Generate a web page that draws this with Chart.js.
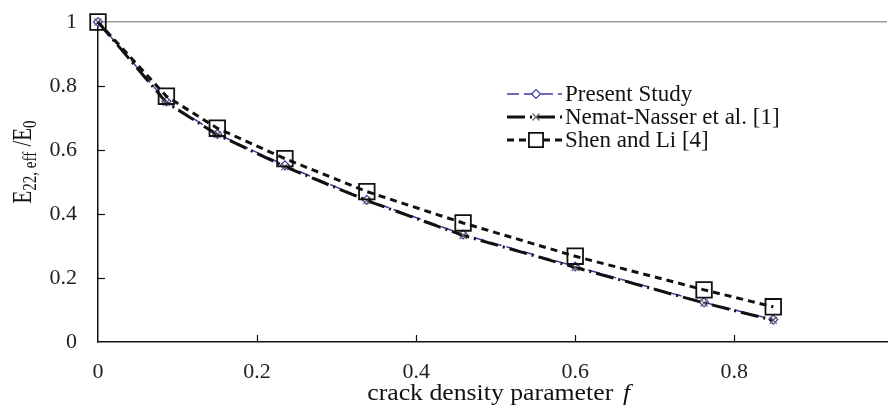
<!DOCTYPE html>
<html>
<head>
<meta charset="utf-8">
<script src="https://cdn.jsdelivr.net/npm/chart.js@4.4.1/dist/chart.umd.min.js"></script>
<style>
  html, body { margin: 0; padding: 0; background: #fff; }
  #wrap { width: 888px; height: 410px; }
</style>
</head>
<body>
<div id="wrap"><canvas id="crack" width="888" height="410"></canvas></div>
<script>
// crack density parameter f
const fValues = [0, 0.086, 0.15, 0.235, 0.338, 0.459, 0.6, 0.762, 0.849];
// E22,eff / E0
const presentStudy = [1, 0.752, 0.65, 0.552, 0.444, 0.336, 0.236, 0.124, 0.07];
const nematNasser = [1, 0.748, 0.648, 0.548, 0.442, 0.333, 0.233, 0.122, 0.068];
const shenLi = [1, 0.768, 0.668, 0.573, 0.47, 0.372, 0.268, 0.163, 0.11];
const xTicks = [0, 0.2, 0.4, 0.6, 0.8];
const yTicks = [0, 0.2, 0.4, 0.6, 0.8, 1];
const seriesNames = ['Present Study', 'Nemat-Nasser et al. [1]', 'Shen and Li [4]'];

const serif = '"Liberation Serif", "DejaVu Serif", serif';
const toPoints = ys => ys.map((y, i) => ({ x: fValues[i], y: y }));

const blue = '#3c3ca4';

// dataset styles
const presentStyle = {
  borderColor: blue, borderWidth: 1.5, borderDash: [12, 5],
  pointStyle: 'rectRot', pointRadius: 4.5, pointBorderColor: blue,
  pointBackgroundColor: '#fff', pointBorderWidth: 1.2
};
const nematStyle = {
  borderColor: '#111', borderWidth: 3, borderDash: [18, 5, 2, 5],
  pointStyle: 'crossRot', pointRadius: 5, pointBorderColor: '#666',
  pointBorderWidth: 1.2
};
const shenStyle = {
  borderColor: '#111', borderWidth: 3, borderDash: [7, 5],
  pointStyle: 'rect', pointRadius: 11, pointBorderColor: '#111',
  pointBackgroundColor: 'rgba(255,255,255,0)', pointBorderWidth: 1.8
};

// inside tick marks, axis titles and legend
const decorations = {
  id: 'decorations',
  afterDraw(chart) {
    const { ctx, chartArea } = chart;
    const xs = chart.scales.x, ys = chart.scales.y;
    ctx.save();
    ctx.strokeStyle = '#111';
    ctx.lineWidth = 1.2;
    xTicks.forEach(v => {
      if (v === 0) return;
      const px = Math.round(xs.getPixelForValue(v)) + 0.5;
      ctx.beginPath();
      ctx.moveTo(px, chartArea.bottom);
      ctx.lineTo(px, chartArea.bottom - 7);
      ctx.stroke();
    });
    yTicks.forEach(v => {
      if (v === 0 || v === 1) return;
      const py = Math.round(ys.getPixelForValue(v)) + 0.5;
      ctx.beginPath();
      ctx.moveTo(chartArea.left, py);
      ctx.lineTo(chartArea.left + 7, py);
      ctx.stroke();
    });

    // x title
    ctx.fillStyle = '#111';
    ctx.textBaseline = 'alphabetic';
    ctx.textAlign = 'left';
    const main = 'crack density parameter ';
    ctx.font = '23px ' + serif;
    const w1 = ctx.measureText(main).width;
    ctx.font = 'italic 23px ' + serif;
    const w2 = ctx.measureText('f').width;
    ctx.save();
    ctx.translate(497, 400);
    ctx.scale(1.12, 1);
    const sx = -(w1 + w2) / 2;
    ctx.font = '23px ' + serif;
    ctx.fillText(main, sx, 0);
    ctx.font = 'italic 23px ' + serif;
    ctx.fillText('f', sx + w1 + 3, 0);
    ctx.restore();

    // y title (rotated, with subscripts)
    const parts = [
      { t: 'E', size: 21, dy: 0 },
      { t: '22, eff', size: 15, dy: 4 },
      { t: ' /E', size: 21, dy: 0 },
      { t: '0', size: 15, dy: 4 }
    ];
    let total = 0;
    parts.forEach(p => { ctx.font = p.size + 'px ' + serif; p.w = ctx.measureText(p.t).width; total += p.w; });
    ctx.save();
    ctx.translate(31, 162);
    ctx.rotate(-Math.PI / 2);
    ctx.scale(1, 1.25);
    let cx = -total / 2;
    parts.forEach(p => {
      ctx.font = p.size + 'px ' + serif;
      ctx.fillText(p.t, cx, p.dy);
      cx += p.w;
    });
    ctx.restore();

    // legend
    const styles = [presentStyle, nematStyle, shenStyle];
    const rowsY = [94, 117, 140];
    styles.forEach((s, i) => {
      const y = rowsY[i];
      ctx.save();
      ctx.strokeStyle = s.borderColor;
      ctx.lineWidth = s.borderWidth;
      ctx.setLineDash(s.borderDash);
      ctx.beginPath();
      ctx.moveTo(507, y);
      ctx.lineTo(562, y);
      ctx.stroke();
      ctx.restore();
      ctx.save();
      ctx.fillStyle = i === 2 ? '#fff' : (s.pointBackgroundColor || '#fff');
      ctx.strokeStyle = s.pointBorderColor;
      ctx.lineWidth = s.pointBorderWidth;
      Chart.helpers.drawPoint(ctx, {
        pointStyle: s.pointStyle,
        radius: i === 2 ? 10 : s.pointRadius,
        borderWidth: s.pointBorderWidth
      }, 536, y);
      ctx.restore();
      ctx.fillStyle = '#111';
      ctx.font = '23px ' + serif;
      ctx.textAlign = 'left';
      ctx.textBaseline = 'middle';
      ctx.fillText(seriesNames[i], 565, y + 1);
    });
    ctx.restore();
  }
};

new Chart(document.getElementById('crack'), {
  type: 'scatter',
  data: {
    datasets: [
      { label: seriesNames[2], data: toPoints(shenLi), showLine: true, clip: false, ...shenStyle },
      { label: seriesNames[1], data: toPoints(nematNasser), showLine: true, clip: false, ...nematStyle },
      { label: seriesNames[0], data: toPoints(presentStudy), showLine: true, clip: false, ...presentStyle }
    ]
  },
  options: {
    responsive: false,
    animation: false,
    layout: { autoPadding: false, padding: { top: 22, right: 1, left: 0, bottom: 0 } },
    plugins: {
      legend: { display: false },
      tooltip: { enabled: false }
    },
    scales: {
      x: {
        type: 'linear',
        min: 0,
        max: 0.992,
        afterBuildTicks: scale => { scale.ticks = xTicks.map(v => ({ value: v })); },
        afterFit: scale => { scale.height = 68; scale.paddingLeft = 0; scale.paddingRight = 0; },
        grid: { display: false, drawTicks: false },
        border: { color: '#111', width: 1.5 },
        ticks: {
          padding: 17,
          color: '#222',
          font: { family: serif, size: 22 },
          callback: v => String(v)
        }
      },
      y: {
        min: 0,
        max: 1,
        afterBuildTicks: scale => { scale.ticks = yTicks.map(v => ({ value: v })); },
        afterFit: scale => { scale.width = 98; scale.paddingTop = 0; scale.paddingBottom = 0; },
        grid: {
          drawTicks: false,
          color: ctx => ctx.tick && ctx.tick.value === 1 ? '#999' : 'rgba(0,0,0,0)',
          lineWidth: 1.5
        },
        border: { color: '#111', width: 1.5 },
        ticks: {
          padding: 21,
          color: '#222',
          font: { family: serif, size: 22 },
          callback: v => String(v)
        }
      }
    }
  },
  plugins: [decorations]
});
</script>
</body>
</html>
